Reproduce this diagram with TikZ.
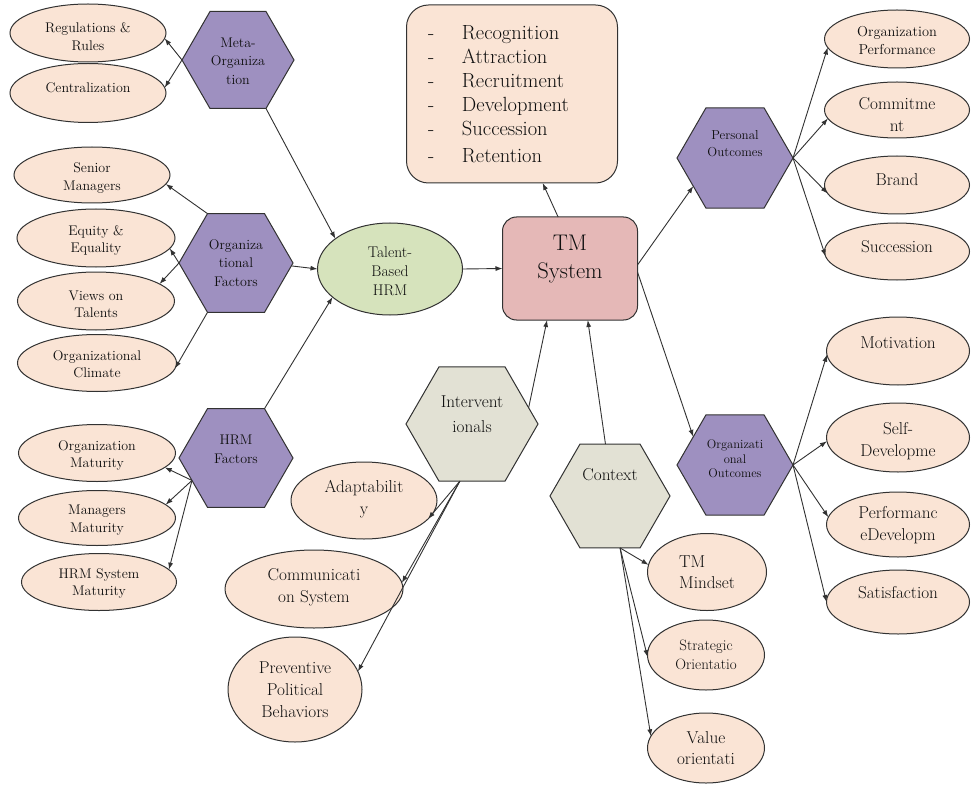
\documentclass[tikz,border=0pt]{standalone}
\usepackage{fontspec}
\usetikzlibrary{shapes.geometric,arrows.meta}
\definecolor{peach}{RGB}{250,228,213}
\definecolor{purp}{RGB}{158,144,192}
\definecolor{grn}{RGB}{214,227,188}
\definecolor{pinkc}{RGB}{229,184,183}
\definecolor{grayh}{RGB}{226,225,212}
\definecolor{bordc}{RGB}{50,50,50}
\definecolor{txtc}{RGB}{15,15,15}
\begin{document}
\begin{tikzpicture}[x=1pt,y=-1pt,
 base/.style={draw=bordc, line width=1pt, inner sep=0pt, outer sep=0pt},
 pe/.style={base, ellipse, fill=peach},
 hx/.style={base, regular polygon, regular polygon sides=6},
 lb/.style={align=center, inner sep=0pt, text=txtc},
 arr/.style={-{Latex[length=7pt,width=5pt]}, line width=0.9pt, draw=bordc},
 fa/.style={font=\fontsize{14}{17.5}\selectfont},
 fh/.style={font=\fontsize{14}{18.5}\selectfont},
 fp/.style={font=\fontsize{13}{17}\selectfont},
 fo/.style={font=\fontsize{12.5}{14.5}\selectfont},
 fi/.style={font=\fontsize{17.2}{25}\selectfont},
 ft/.style={font=\fontsize{15.5}{19}\selectfont},
 fs/.style={font=\fontsize{22.6}{28}\selectfont},
 fr/.style={font=\fontsize{20.5}{24}\selectfont},
 fb/.style={font=\fontsize{17.2}{22}\selectfont},
 fop/.style={font=\fontsize{14.4}{18}\selectfont},
 fc/.style={font=\fontsize{17.2}{22}\selectfont},
 fm/.style={font=\fontsize{17.2}{21}\selectfont},
 fst/.style={font=\fontsize{15}{19}\selectfont},
 fv/.style={font=\fontsize{17.2}{20.5}\selectfont}
]
\fill[white] (0,0) rectangle (971,786);
\useasboundingbox (0,0) rectangle (971,786);

% left ellipses
\node[pe, minimum width=156pt, minimum height=58pt, label={[lb,fa,yshift=-3.5pt]center:{Regulations \&\\Rules}}] (reg) at (88,33) {};
\node[pe, minimum width=156pt, minimum height=59pt, label={[lb,fa,yshift=5pt]center:{Centralization}}] (cen) at (88,93) {};
\node[pe, minimum width=156pt, minimum height=56pt, label={[lb,fa,yshift=-3pt]center:{Senior\\Managers}}] (sen) at (92,175) {};
\node[pe, minimum width=158pt, minimum height=58pt, label={[lb,fa,yshift=-2.5pt]center:{Equity \&\\Equality}}] (equ) at (96,238) {};
\node[pe, minimum width=157pt, minimum height=58pt, label={[lb,fa,yshift=-3.5pt]center:{Views on\\Talents}}] (vie) at (96,301) {};
\node[pe, minimum width=159pt, minimum height=57pt, label={[lb,fa,yshift=-1pt]center:{Organizational\\Climate}}] (cli) at (97,363) {};
\node[pe, minimum width=157pt, minimum height=57pt, label={[lb,fa,yshift=-2.5pt]center:{Organization\\Maturity}}] (om) at (97,453) {};
\node[pe, minimum width=157pt, minimum height=55pt, label={[lb,fa,yshift=-2pt]center:{Managers\\Maturity}}] (mm) at (97,518) {};
\node[pe, minimum width=155pt, minimum height=57pt, label={[lb,fa,yshift=-1.5pt]center:{HRM System\\Maturity}}] (hm) at (99,582) {};

% hexagons
\node[hx, fill=purp, minimum size=112pt, label={[lb,fh,yshift=-1pt]center:{Meta-\\Organiza\\tion}}] (meta) at (238,60) {};
\node[hx, fill=purp, minimum size=114pt, label={[lb,fh]center:{Organiza\\tional\\Factors}}] (of) at (236,263) {};
\node[hx, fill=purp, minimum size=114pt, label={[lb,fh,yshift=8.5pt]center:{HRM\\Factors}}] (hf) at (236,458) {};
\node[hx, fill=purp, minimum size=116pt, label={[lb,fp,yshift=14.5pt]center:{Personal\\Outcomes}}] (po) at (735,158) {};
\node[hx, fill=purp, minimum size=116pt, label={[lb,fo,yshift=6pt]center:{Organizati\\onal\\Outcomes}}] (oo) at (735,465) {};
\node[hx, fill=grayh, minimum size=132pt, label={[lb,fi,yshift=9.5pt]center:{Intervent\\ionals}}] (int) at (472,424) {};
\node[hx, fill=grayh, minimum size=120pt, label={[lb,fi,yshift=21pt]center:{Context}}] (ctx) at (610,496) {};

% centre
\node[base, ellipse, fill=grn, minimum width=145pt, minimum height=92pt, label={[lb,ft,yshift=-2pt]center:{Talent-\\Based\\HRM}}] (tal) at (390,269) {};
\node[base, rounded corners=14pt, fill=pinkc, minimum width=135pt, minimum height=103pt, label={[lb,fs,yshift=9pt]center:{TM\\System}}] (tm) at (570,268.5) {};
\node[base, rounded corners=22pt, fill=peach, minimum width=211pt, minimum height=178pt, label={[lb,fr,align=left,xshift=-13.5pt]center:{-\hspace{27.7pt}Recognition\\-\hspace{27.7pt}Attraction\\-\hspace{27.7pt}Recruitment\\-\hspace{27.7pt}Development\\-\hspace{27.7pt}Succession\\[3pt]-\hspace{27.7pt}Retention}}] (rec) at (512,94) {};

% right ellipses
\node[pe, minimum width=145pt, minimum height=58pt, label={[lb,fop,yshift=-2pt]center:{Organization\\Performance}}] (op) at (897,39) {};
\node[pe, minimum width=145pt, minimum height=56pt, label={[lb,fb,yshift=-5pt]center:{Commitme\\nt}}] (cm) at (897,110) {};
\node[pe, minimum width=145pt, minimum height=58pt, label={[lb,fb,yshift=5pt]center:{Brand}}] (br) at (897,185) {};
\node[pe, minimum width=145pt, minimum height=57pt, label={[lb,fb,yshift=4.5pt]center:{Succession}}] (su) at (897,251.5) {};
\node[pe, minimum width=143pt, minimum height=68pt, label={[lb,fb,yshift=8pt]center:{Motivation}}] (mo) at (898,351) {};
\node[pe, minimum width=143pt, minimum height=69pt, label={[lb,fb,yshift=-4pt]center:{Self-\\Developme}}] (sd) at (898,437.5) {};
\node[pe, minimum width=143pt, minimum height=65pt, label={[lb,fb,yshift=-1pt]center:{Performanc\\eDevelopm}}] (pd) at (898,524.5) {};
\node[pe, minimum width=143pt, minimum height=64pt, label={[lb,fb,yshift=9pt]center:{Satisfaction}}] (sa) at (898,602) {};

% bottom ellipses
\node[pe, minimum width=146pt, minimum height=77pt, label={[lb,fc,yshift=1pt]center:{Adaptabilit\\y}}] (ada) at (364,500.5) {};
\node[pe, minimum width=178pt, minimum height=78pt, label={[lb,fc,yshift=1.5pt]center:{Communicati\\on System}}] (comm) at (314,589) {};
\node[pe, minimum width=134pt, minimum height=105pt, label={[lb,fc]center:{Preventive\\Political\\Behaviors}}] (pre) at (295,689.5) {};

% context children
\node[pe, minimum width=119pt, minimum height=77pt, label={[lb,fm,align=left]center:{TM\\Mindset}}] (tmm) at (707,572) {};
\node[pe, minimum width=117pt, minimum height=70pt, label={[lb,fst]center:{Strategic\\Orientatio}}] (str) at (706,655) {};
\node[pe, minimum width=117pt, minimum height=70pt, label={[lb,fv]center:{Value\\orientati}}] (val) at (706,748) {};

% connectors
\draw[arr] (meta.180) -- (reg.-4);
\draw[arr] (meta.180) -- (cen.4);
\draw[arr] (meta.300) -- (tal.151);
\draw[arr] (of.120) -- (sen.-7);
\draw[arr] (of.180) -- (equ.-8);
\draw[arr] (of.180) -- (vie.15);
\draw[arr] (of.240) -- (cli.-4);
\draw[arr] (of.-3) -- (tal.180);
\draw[arr] (hf.60) -- (tal.206);
\draw[arr] (hf.207) -- (om.-12);
\draw[arr] (hf.207) -- (mm.11);
\draw[arr] (hf.207) -- (hm.10);
\draw[arr] (tal.east) -- (tm.west);
\draw[arr] (tm.103) -- (rec.-71);
\draw[arr] (tm.3) -- (po.214);
\draw[arr] (tm.-3) -- (oo.146);
\draw[arr] (int.16) -- (tm.-114);
\draw[arr] (ctx.95) -- (tm.-71);
\draw[arr] (po.0) -- (op.187);
\draw[arr] (po.0) -- (cm.187);
\draw[arr] (po.0) -- (br.187);
\draw[arr] (po.0) -- (su.184);
\draw[arr] (oo.0) -- (mo.183);
\draw[arr] (oo.0) -- (sd.183);
\draw[arr] (oo.0) -- (pd.174);
\draw[arr] (oo.0) -- (sa.180);
\draw[arr] (int.-102) -- (ada.-16);
\draw[arr] (int.-102) -- (comm.4);
\draw[arr] (int.-102) -- (pre.16);
\draw[arr] (ctx.-79) -- (tmm.173);
\draw[arr] (ctx.-79) -- (str.182);
\draw[arr] (ctx.-79) -- (val.168);
\end{tikzpicture}
\end{document}
